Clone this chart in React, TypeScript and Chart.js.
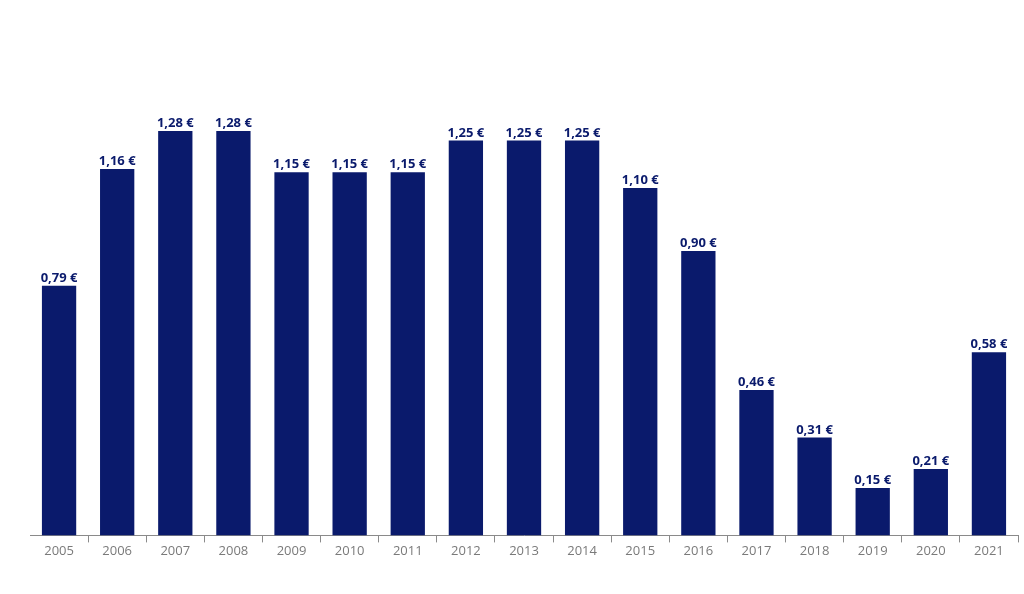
import React, { useEffect, useRef } from "react";
import { Chart, registerables } from "chart.js";

Chart.register(...registerables);

const years = ["2005","2006","2007","2008","2009","2010","2011","2012","2013","2014","2015","2016","2017","2018","2019","2020","2021"];
const dividends = [0.79, 1.16, 1.28, 1.28, 1.15, 1.15, 1.15, 1.25, 1.25, 1.25, 1.10, 0.90, 0.46, 0.31, 0.15, 0.21, 0.58];
const valueLabels = ["0,79 €","1,16 €","1,28 €","1,28 €","1,15 €","1,15 €","1,15 €","1,25 €","1,25 €","1,25 €","1,10 €","0,90 €","0,46 €","0,31 €","0,15 €","0,21 €","0,58 €"];

const NAVY = "#0a1a6c";

const labelPlugin = {
  id: "valueLabels",
  afterDatasetsDraw(chart: any) {
    const ctx = chart.ctx;
    const meta = chart.getDatasetMeta(0);
    ctx.save();
    ctx.font = "bold 13px 'Open Sans', sans-serif";
    ctx.fillStyle = NAVY;
    ctx.textAlign = "center";
    ctx.textBaseline = "bottom";
    meta.data.forEach((bar: any, i: number) => {
      ctx.fillText(valueLabels[i], bar.x, bar.y - 1);
    });
    ctx.restore();
  },
};

export default function App() {
  const ref = useRef<HTMLCanvasElement>(null);
  useEffect(() => {
    if (!ref.current) return;
    const chart = new Chart(ref.current, {
      type: "bar",
      data: {
        labels: years,
        datasets: [
          {
            data: dividends,
            backgroundColor: NAVY,
            categoryPercentage: 1,
            barPercentage: 0.59,
          },
        ],
      },
      options: {
        animation: false,
        responsive: true,
        maintainAspectRatio: false,
        layout: { padding: { left: 30, right: 6, top: 30, bottom: 34 } },
        plugins: { legend: { display: false }, tooltip: { enabled: false } },
        scales: {
          x: {
            offset: true,
            border: { display: true, color: "#8a8a8a", width: 1 },
            grid: {
              offset: true,
              drawOnChartArea: false,
              drawTicks: true,
              tickLength: 7,
              color: (c: any) => (c.index === 0 ? "rgba(0,0,0,0)" : "#8a8a8a"),
            },
            ticks: {
              color: "#7a7a7a",
              font: { size: 13, family: "'Open Sans', sans-serif" },
              padding: 1,
              maxRotation: 0,
            },
          },
          y: { display: false, min: 0, max: 1.6 },
        },
      },
      plugins: [labelPlugin],
    });
    return () => chart.destroy();
  }, []);
  return (
    <div style={{ position: "absolute", left: 0, top: 0, width: 1024, height: 594, background: "#fff" }}>
      <canvas ref={ref} />
    </div>
  );
}
